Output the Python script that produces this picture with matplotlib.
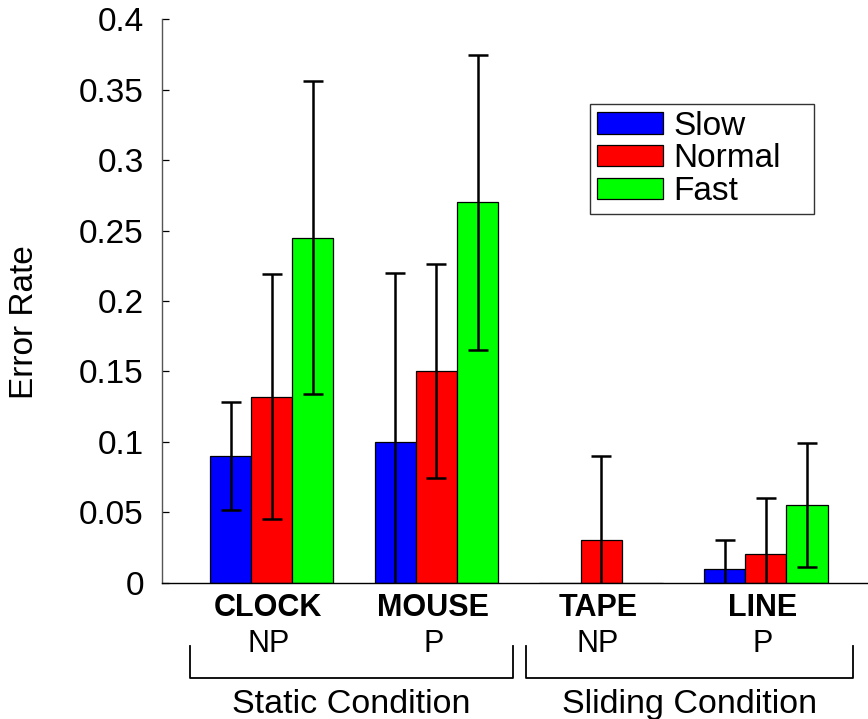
import numpy as np
import matplotlib
matplotlib.use("Agg")
import matplotlib.pyplot as plt
import matplotlib.transforms as mtransforms
from matplotlib.lines import Line2D

plt.rcParams['font.family'] = ['Liberation Sans', 'DejaVu Sans']

# ---- data ----
tasks = ["CLOCK", "MOUSE", "TAPE", "LINE"]
pointing = ["NP", "P", "NP", "P"]
conditions = ["Static Condition", "Sliding Condition"]
speeds = ["Slow", "Normal", "Fast"]
slow = [0.090, 0.100, 0.000, 0.010]
normal = [0.132, 0.150, 0.030, 0.020]
fast = [0.245, 0.270, 0.000, 0.055]
slow_err = [0.0385, 0.120, np.nan, 0.020]
normal_err = [0.087, 0.076, 0.060, 0.040]
fast_err = [0.111, 0.105, np.nan, 0.044]
yticks = [0, 0.05, 0.1, 0.15, 0.2, 0.25, 0.3, 0.35, 0.4]
ytick_labels = ["0", "0.05", "0.1", "0.15", "0.2", "0.25", "0.3", "0.35", "0.4"]

colors = ["#0000ff", "#ff0000", "#00ff00"]

W, H = 868, 719
fig = plt.figure(figsize=(W / 100, H / 100), dpi=100)
ax = fig.add_axes([162 / W, 1 - 582.6 / H, 1 - 162 / W, (582.6 - 19.3) / H])

x = np.arange(1, len(tasks) + 1)
bw = 0.25
series = [(slow, slow_err), (normal, normal_err), (fast, fast_err)]
handles = []
for i, ((vals, errs), c, name) in enumerate(zip(series, colors, speeds)):
    xs = x + (i - 1) * bw
    b = ax.bar(xs, vals, width=bw, color=c, edgecolor="black", linewidth=0.9,
               label=name, zorder=2)
    handles.append(b)
    errs = np.array(errs, dtype=float)
    vals = np.array(vals, dtype=float)
    m = ~np.isnan(errs)
    ax.errorbar(xs[m], vals[m], yerr=errs[m], fmt="none", ecolor="black",
                elinewidth=1.8, capsize=7.5, capthick=1.8, zorder=3)

ax.set_xlim(0.334, 4.62)
ax.set_ylim(0, 0.4)
ax.set_yticks(yticks)
ax.set_yticklabels(ytick_labels)
ax.set_xticks([])
for s in ["top", "right"]:
    ax.spines[s].set_visible(False)
ax.spines["left"].set_color("#555555")
ax.spines["left"].set_linewidth(1.0)
ax.spines["bottom"].set_color("black")
ax.spines["bottom"].set_linewidth(1.0)
ax.tick_params(axis="y", direction="in", length=5, width=0.9, labelsize=24, pad=13)

fig.text(25 / W, 1 - 322.5 / H, "Error Rate", rotation=90, fontsize=24,
         ha="center", va="center")

leg = fig.legend(handles=handles, labels=speeds, loc="upper left",
                 bbox_to_anchor=(590 / W, 1 - 214 / H, 224 / W, 110 / H),
                 mode="expand", fontsize=24,
                 frameon=True, fancybox=False, edgecolor="black",
                 handlelength=2.0, handleheight=0.6, handletextpad=0.3,
                 labelspacing=0.05, borderpad=0.2, borderaxespad=0)
leg.get_frame().set_linewidth(1.0)

# category labels
btrans = mtransforms.blended_transform_factory(ax.transData, fig.transFigure)
for xi, t, p in zip(x, tasks, pointing):
    ax.text(xi - 0.02, 1 - 607.5 / H, t, transform=btrans,
            fontsize=22, fontweight="bold", ha="center", va="center")
    ax.text(xi - 0.02, 1 - 643.7 / H, p, transform=btrans,
            fontsize=22, ha="center", va="center")

# brackets
def bracket(x0, x1):
    y0, y1 = 1 - 646 / H, 1 - 678 / H
    fig.add_artist(Line2D([x0 / W, x0 / W, x1 / W, x1 / W], [y0, y1, y1, y0],
                          color="black", linewidth=1.3))

bracket(190, 513.3)
bracket(526, 853.3)
fig.text(351.7 / W, 1 - 713 / H, conditions[0], fontsize=24.5, ha="center", va="baseline")
fig.text(689.7 / W, 1 - 713 / H, conditions[1], fontsize=24.5, ha="center", va="baseline")

fig.savefig("out.png", dpi=100)
